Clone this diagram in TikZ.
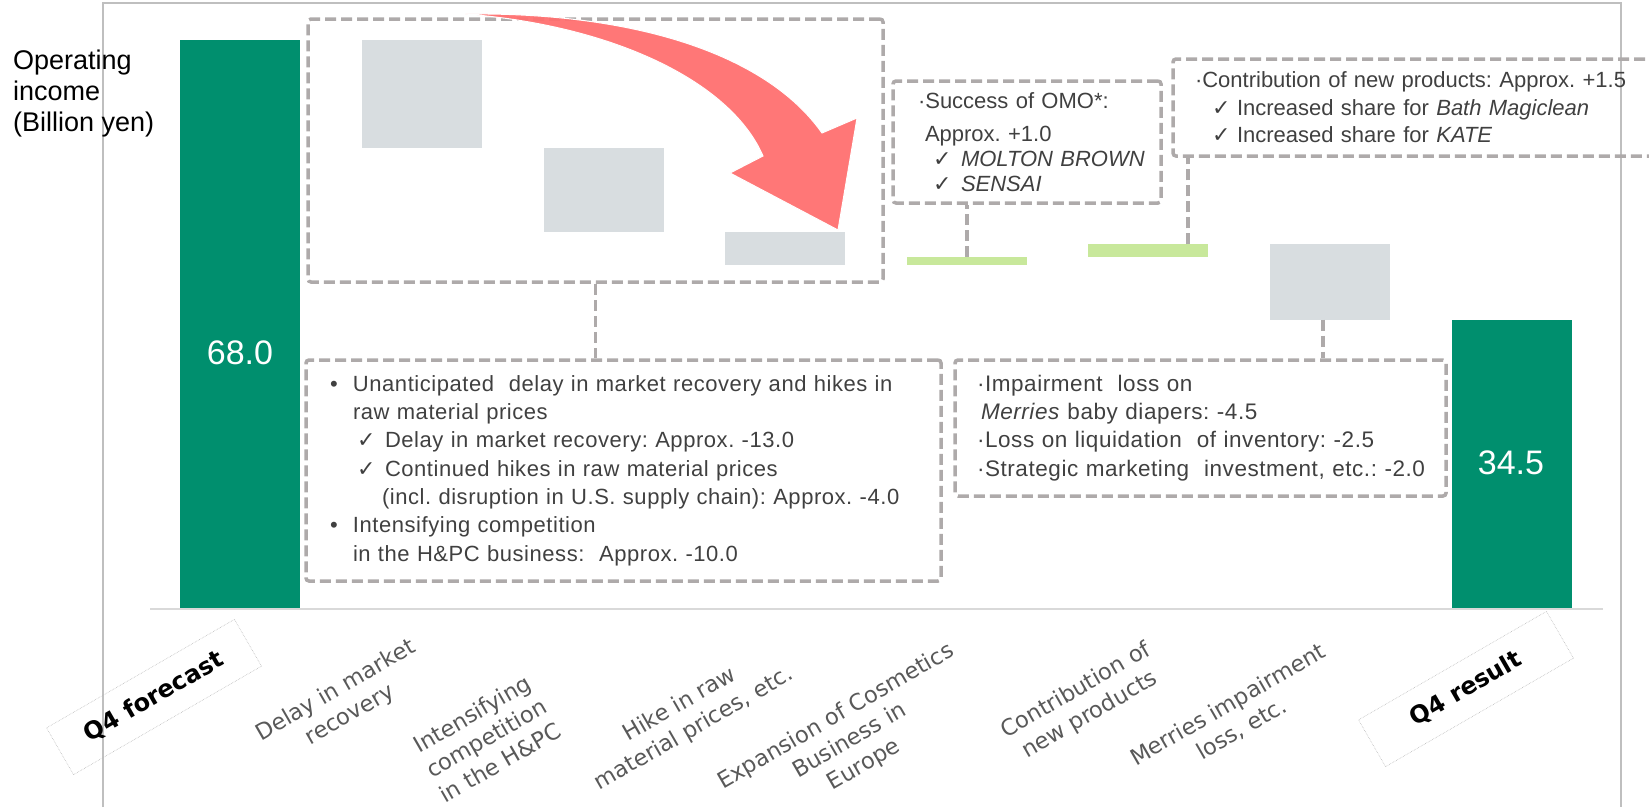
\documentclass[tikz,border=0pt]{standalone}
\usepackage{fontspec}
\setmainfont{Liberation Sans}
\newfontfamily\notefont[LetterSpace=2.5]{Liberation Sans}
\newfontfamily\labelfont{DejaVu Sans}
\newfontfamily\symfont{DejaVu Sans}
\frenchspacing

\definecolor{kaogreen}{RGB}{0,143,110}
\definecolor{stepgray}{RGB}{216,221,224}
\definecolor{plusgreen}{RGB}{200,232,155}
\definecolor{dashgray}{RGB}{174,170,170}
\definecolor{notetext}{RGB}{64,64,64}
\definecolor{ticktext}{RGB}{89,89,89}
\definecolor{arrowred}{RGB}{255,112,112}

\newcommand{\valscale}{8.36}
\newcommand{\axisy}{608}
\newcommand{\barw}{120}
\newcommand{\okmark}{{\symfont ✓}}

\begin{document}
\begin{tikzpicture}[x=1pt, y=-1pt,
    bar/.style={rectangle, inner sep=0pt, outer sep=0pt, minimum width=\barw},
    total/.style={bar, fill=kaogreen, anchor=south},
    down/.style={bar, fill=stepgray, anchor=north},
    up/.style={bar, fill=plusgreen, anchor=north},
    value/.style={text=white, inner sep=0pt, font=\fontsize{34}{40}\selectfont},
    link/.style={draw=dashgray, line width=3.5pt, dash pattern=on 11pt off 5pt},
    note/.style={link, rectangle, rounded corners=3pt, text=notetext, align=left, inner ysep=0pt},
    tick/.style={rotate=30, align=center, text=ticktext, inner sep=0pt, font=\labelfont\fontsize{22.5}{28}\selectfont},
    endtick/.style={draw=gray!55, densely dotted, line width=0.6pt, rotate=30, minimum width=217, minimum height=54, font=\labelfont\bfseries\fontsize{24}{28}\selectfont}]
    \useasboundingbox (0,0) rectangle (1649,807);
    \clip (0,0) rectangle (1649,807);

    % Frame and axis
    \draw[gray!50, line width=1.2pt] (103,807) -- (103,3) -- (1621,3) -- (1621,807);
    \draw[gray!30, line width=2.5pt] (150,609) -- (1603,609);

    \node[anchor=north west, align=left, inner sep=0pt, font=\fontsize{27}{31}\selectfont] (axis-title) at (13,50) {Operating\\income\\(Billion yen)};

    % Totals
    \node[total, minimum height=68*\valscale] (bar-1) at (240,\axisy) {};
    \node[total, minimum height=34.5*\valscale] (bar-8) at (1512,\axisy) {};
    \node[value] (val-1) at (240,352.5) {68.0};
    \node[value] (val-8) at (1511,462.5) {34.5};

    % Steps
    \node[down, minimum height=13*\valscale] (bar-2) at (422,{\axisy-68*\valscale}) {};
    \node[down, minimum height=10*\valscale] (bar-3) at (604,{\axisy-55*\valscale}) {};
    \node[down, minimum height=4*\valscale] (bar-4) at (785,{\axisy-45*\valscale}) {};
    \node[up, minimum height=1*\valscale] (bar-5) at (967,{\axisy-42*\valscale}) {};
    \node[up, minimum height=1.5*\valscale] (bar-6) at (1148,{\axisy-43.5*\valscale}) {};
    \node[down, minimum height=9*\valscale] (bar-7) at (1330,{\axisy-43.5*\valscale}) {};

    % Notes
    \node[note, minimum width=575, minimum height=263] (note-fall) at (595.5,150.5) {};
    \node[note, text width=587, inner xsep=24, minimum height=221, font=\notefont\fontsize{22}{28.3}\selectfont] (note-hpc) at (623.5,470.5) {%
        \makebox[23pt][l]{\textbullet}Unanticipated\ \ delay in market recovery and hikes in\\
        \hspace*{23pt}raw material prices\\
        \hspace*{27pt}\makebox[28pt][l]{\okmark}Delay in market recovery: Approx. -13.0\\
        \hspace*{27pt}\makebox[28pt][l]{\okmark}Continued hikes in raw material prices\\
        \hspace*{52pt}(incl. disruption in U.S. supply chain): Approx. -4.0\\
        \makebox[23pt][l]{\textbullet}Intensifying competition\\
        \hspace*{23pt}in the H\&PC business:\ \ Approx. -10.0};
    \node[note, text width=244, inner xsep=12, minimum height=122, font=\fontsize{22}{25}\selectfont] (note-omo) at (1027,142) {%
        \hspace*{13pt}·Success of OMO*:\\[8pt]
        \hspace*{20pt}Approx. +1.0\\
        \hspace*{28pt}\makebox[28pt][l]{\okmark}\textit{MOLTON BROWN}\\
        \hspace*{28pt}\makebox[28pt][l]{\okmark}\textit{SENSAI}};
    \node[note, text width=463, inner xsep=22, minimum height=97, font=\fontsize{22}{27.5}\selectfont] (note-new) at (1426.5,107.5) {%
        ·Contribution of new products: Approx. +1.5\\
        \hspace*{17pt}\makebox[25pt][l]{\okmark}Increased share for \textit{Bath Magiclean}\\
        \hspace*{17pt}\makebox[25pt][l]{\okmark}Increased share for \textit{KATE}};
    \node[note, text width=459, inner xsep=16, minimum height=136, font=\notefont\fontsize{22.5}{28.3}\selectfont] (note-merries) at (1200.5,428) {%
        \hspace*{6pt}·Impairment\ \ loss on\\
        \hspace*{10pt}\textit{Merries} baby diapers: -4.5\\
        \hspace*{6pt}·Loss on liquidation\ \ of inventory: -2.5\\
        \hspace*{6pt}·Strategic marketing\ \ investment, etc.: -2.0};

    % Leaders
    \draw[link] (note-fall.south) -- (note-fall.south |- note-hpc.north);
    \draw[link] (bar-5.north) -- (bar-5.north |- note-omo.south);
    \draw[link] ([xshift=40pt]bar-6.north) -- ([xshift=40pt]bar-6.north |- note-new.south);
    \draw[link] ([xshift=-7pt]bar-7.south) -- ([xshift=-7pt]bar-7.south |- note-merries.north);

    % Big arrow over the falling steps
    \path[fill=arrowred, fill opacity=0.95, draw=white, line width=1pt]
        (465,14) .. controls (630,12) and (765,52) .. (822,133) -- (857,118) -- (838,230)
        -- (730,173) -- (763,156) .. controls (730,80) and (610,25) .. cycle;

    % Category labels
    \node[endtick] (tick-1) at (154,697) {Q4 forecast};
    \node[tick] (tick-2) at (343,703) {Delay in market\\recovery};
    \node[tick] (tick-3) at (486,738) {Intensifying\\competition\\in the H\&PC};
    \node[tick] (tick-4) at (687,717) {Hike in raw\\material prices, etc.};
    \node[tick] (tick-5) at (850,741) {Expansion of Cosmetics\\Business in\\Europe};
    \node[tick] (tick-6) at (1083,703) {Contribution of\\new products};
    \node[tick] (tick-7) at (1235,717) {Merries impairment\\loss, etc.};
    \node[endtick] (tick-8) at (1466,689) {Q4 result};
\end{tikzpicture}
\end{document}
